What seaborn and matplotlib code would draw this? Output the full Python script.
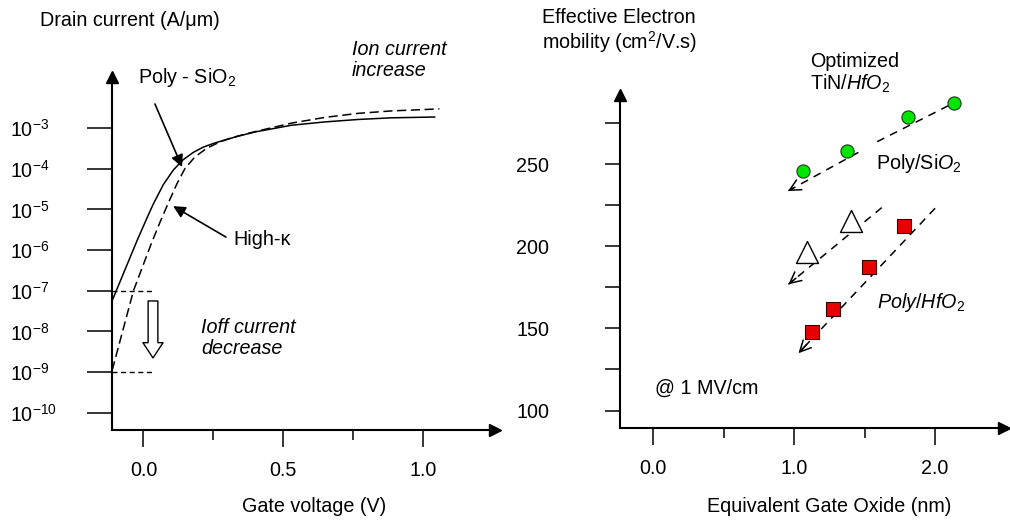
import matplotlib
matplotlib.use("Agg")
import matplotlib.pyplot as plt
import seaborn as sns
import pandas as pd
from matplotlib.ticker import FixedLocator, NullLocator

# ---------------- data: left panel (drain current vs gate voltage) ----------------
gate_voltage_poly = [-0.112, -0.022, 0.017, 0.035, 0.071, 0.107, 0.142, 0.178, 0.214,
                     0.250, 0.298, 0.345, 0.405, 0.530, 0.649, 0.768, 0.888, 1.043]
drain_current_poly = [5.75e-8, 1.78e-6, 7.24e-6, 1.35e-5, 4.07e-5, 9.33e-5, 1.66e-4, 2.51e-4,
                      3.39e-4, 4.17e-4, 5.25e-4, 6.46e-4, 8.13e-4, 1.17e-3, 1.41e-3, 1.62e-3,
                      1.78e-3, 1.86e-3]

gate_voltage_hk = [-0.112, -0.036, 0.029, 0.060, 0.089, 0.119, 0.148, 0.184, 0.226, 0.274,
                   0.321, 0.381, 0.411, 0.530, 0.649, 0.768, 0.888, 1.059]
drain_current_hk = [1.12e-9, 1.0e-7, 1.51e-6, 5.01e-6, 1.45e-5, 4.17e-5, 1.0e-4, 1.95e-4,
                    3.16e-4, 4.57e-4, 5.89e-4, 7.59e-4, 8.51e-4, 1.32e-3, 1.82e-3, 2.29e-3,
                    2.63e-3, 2.95e-3]

ioff_levels = [1e-7, 1e-9]
ioff_v_span = [-0.1145, 0.041]

current_ticks = [1e-3, 1e-4, 1e-5, 1e-6, 1e-7, 1e-8, 1e-9, 1e-10]
current_tick_labels = [r"10$^{-3}$", r"10$^{-4}$", r"10$^{-5}$", r"10$^{-6}$",
                       r"10$^{-7}$", r"10$^{-8}$", r"10$^{-9}$", r"10$^{-10}$"]
voltage_ticks = [0.0, 0.5, 1.0]
voltage_tick_labels = ["0.0", "0.5", "1.0"]
voltage_minor_ticks = [0.25, 0.75]

# ---------------- data: right panel (mobility vs EOT) ----------------
eot_tin_hfo2 = [1.066, 1.374, 1.811, 2.135]
mobility_tin_hfo2 = [245.7, 257.9, 278.8, 286.9]
eot_poly_sio2 = [1.090, 1.402]
mobility_poly_sio2 = [196.7, 215.5]
eot_poly_hfo2 = [1.126, 1.279, 1.534, 1.780]
mobility_poly_hfo2 = [148.1, 161.6, 187.2, 212.3]

# trend guides (start -> arrow tip)
tin_guide_upper_eot = [2.094, 1.587]
tin_guide_upper_mob = [285.5, 263.5]
tin_guide_lower_eot = [1.456, 0.957]
tin_guide_lower_mob = [257.1, 233.6]
sio2_guide_eot = [1.622, 0.960]
sio2_guide_mob = [223.5, 176.8]
hfo2_guide_eot = [2.000, 1.031]
hfo2_guide_mob = [223.1, 134.9]

mobility_ticks = [100, 150, 200, 250]
mobility_minor_ticks = [125, 175, 225, 275]
eot_ticks = [0.0, 1.0, 2.0]
eot_tick_labels = ["0.0", "1.0", "2.0"]
eot_minor_ticks = [0.5, 1.5]

# ---------------- style ----------------
sns.set_style("ticks", {"axes.edgecolor": "black", "xtick.color": "black",
                        "ytick.color": "black", "text.color": "black",
                        "axes.labelcolor": "black"})
plt.rcParams["font.family"] = ["Liberation Sans", "DejaVu Sans"]
plt.rcParams["mathtext.fontset"] = "custom"
plt.rcParams["mathtext.rm"] = "Liberation Sans"
plt.rcParams["mathtext.it"] = "Liberation Sans:italic"
plt.rcParams["mathtext.bf"] = "Liberation Sans:bold"
FS = 14.2

fig = plt.figure(figsize=(10.1, 5.21), dpi=100)
ax1 = fig.add_axes([0.1104, 0.1747, 0.3797, 0.6775])
ax2 = fig.add_axes([0.6139, 0.1779, 0.3802, 0.6397])

for ax in (ax1, ax2):
    ax.spines[["top", "right"]].set_visible(False)
    for s in ("left", "bottom"):
        ax.spines[s].set_linewidth(1.5)
    ax.plot(1, 0, ">", color="k", ms=8, transform=ax.transAxes, clip_on=False)
    ax.plot(0, 1, "^", color="k", ms=8, transform=ax.transAxes, clip_on=False)

# ---------------- left panel ----------------
ax1.set_yscale("log")
df_poly = pd.DataFrame({"V": gate_voltage_poly, "I": drain_current_poly})
df_hk = pd.DataFrame({"V": gate_voltage_hk, "I": drain_current_hk})
sns.lineplot(data=df_poly, x="V", y="I", ax=ax1, color="black", lw=1.1,
             sort=False, estimator=None)
sns.lineplot(data=df_hk, x="V", y="I", ax=ax1, color="black", lw=1.1,
             sort=False, estimator=None, linestyle="--")
ax1.lines[-1].set_dashes([6, 3])
for line in ax1.lines[-2:]:
    line.set_solid_joinstyle("round")
    line.set_dash_joinstyle("round")
for lvl in ioff_levels:
    ax1.plot(ioff_v_span, [lvl, lvl], color="black", lw=1.0, dashes=(3.6, 2.6))

ax1.set_xlim(-0.1145, 1.258)
ax1.set_ylim(10 ** -10.42, 10 ** -1.747)
ax1.set_yticks(current_ticks, current_tick_labels)
ax1.yaxis.set_minor_locator(NullLocator())
ax1.tick_params(axis="y", which="major", length=18, width=1.1, pad=55, labelsize=FS, left=True)
for lab in ax1.get_yticklabels():
    lab.set_horizontalalignment("left")
ax1.set_xticks(voltage_ticks, voltage_tick_labels)
ax1.xaxis.set_minor_locator(FixedLocator(voltage_minor_ticks))
ax1.tick_params(axis="x", which="major", length=12, width=1.1, pad=10, labelsize=FS, bottom=True)
ax1.tick_params(axis="x", which="minor", length=7, width=1.1, bottom=True)

ax1.set_xlabel("Gate voltage (V)", fontsize=FS)
ax1.xaxis.set_label_coords(0.528, -0.19)
ax1.set_ylabel("Drain current (A/μm)", fontsize=FS, rotation=0, ha="left", va="center")
ax1.yaxis.set_label_coords(-0.186, 1.161)

ax1.text(-0.02, 10 ** -1.75, r"Poly - SiO$_2$", fontsize=FS, ha="left", va="center")
ax1.annotate("", xy=(0.138, 10 ** -3.96), xytext=(0.041, 10 ** -2.41),
             arrowprops=dict(arrowstyle="-|>", color="black", lw=1.2,
                             mutation_scale=18, shrinkA=0, shrinkB=0))
ax1.text(0.32, 10 ** -5.75, "High-κ", fontsize=FS, ha="left", va="center")
ax1.annotate("", xy=(0.106, 10 ** -4.92), xytext=(0.295, 10 ** -5.68),
             arrowprops=dict(arrowstyle="-|>", color="black", lw=1.2,
                             mutation_scale=18, shrinkA=0, shrinkB=0))
ax1.text(0.746, 10 ** -1.33, "Ion current\nincrease", fontsize=FS, style="italic",
         ha="left", va="center", linespacing=1.15)
ax1.text(0.206, 10 ** -8.16, "Ioff current\ndecrease", fontsize=FS, style="italic",
         ha="left", va="center", linespacing=1.15)
ax1.annotate("", xy=(0.034, 10 ** -8.65), xytext=(0.034, 10 ** -7.25),
             arrowprops=dict(arrowstyle="simple,head_length=1.1,head_width=1.45,tail_width=0.7",
                             fc="white", ec="black", lw=1.0, mutation_scale=10,
                             shrinkA=0, shrinkB=0))

# ---------------- right panel ----------------
dash_style = (5.2, 4.2)
for gx, gy in ((tin_guide_upper_eot, tin_guide_upper_mob),
               (tin_guide_lower_eot, tin_guide_lower_mob),
               (sio2_guide_eot, sio2_guide_mob),
               (hfo2_guide_eot, hfo2_guide_mob)):
    ax2.plot(gx, gy, color="black", lw=1.1, dashes=dash_style, zorder=2)
for gx, gy in ((tin_guide_lower_eot, tin_guide_lower_mob),
               (sio2_guide_eot, sio2_guide_mob),
               (hfo2_guide_eot, hfo2_guide_mob)):
    tip = (gx[1], gy[1])
    back = (gx[1] + 0.08 * (gx[0] - gx[1]), gy[1] + 0.08 * (gy[0] - gy[1]))
    ax2.annotate("", xy=tip, xytext=back,
                 arrowprops=dict(arrowstyle="->", color="black", lw=1.1,
                                 mutation_scale=20, shrinkA=0, shrinkB=0))

sns.scatterplot(x=eot_tin_hfo2, y=mobility_tin_hfo2, ax=ax2, marker="o", s=90,
                color="#00e600", edgecolor="#1c3a1c", linewidth=0.8, zorder=3)
sns.scatterplot(x=eot_poly_sio2, y=mobility_poly_sio2, ax=ax2, marker="^", s=250,
                color="white", edgecolor="black", linewidth=1.0, zorder=3)
sns.scatterplot(x=eot_poly_hfo2, y=mobility_poly_hfo2, ax=ax2, marker="s", s=95,
                color="#e60000", edgecolor="#3a0000", linewidth=0.8, zorder=3)

ax2.set_xlim(-0.234, 2.489)
ax2.set_ylim(89.2, 292.0)
ax2.set_yticks(mobility_ticks, [str(v) for v in mobility_ticks])
ax2.yaxis.set_minor_locator(FixedLocator(mobility_minor_ticks))
ax2.tick_params(axis="y", which="both", length=11, width=1.1, pad=40, labelsize=FS, left=True)
ax2.set_xticks(eot_ticks, eot_tick_labels)
ax2.xaxis.set_minor_locator(FixedLocator(eot_minor_ticks))
ax2.tick_params(axis="x", which="major", length=12, width=1.1, pad=10, labelsize=FS, bottom=True)
ax2.tick_params(axis="x", which="minor", length=7, width=1.1, bottom=True)

ax2.set_xlabel("Equivalent Gate Oxide (nm)", fontsize=FS)
ax2.xaxis.set_label_coords(0.544, -0.206)
ax2.set_ylabel("Effective Electron\nmobility (cm$^2$/V.s)", fontsize=FS, rotation=0,
               ha="left", va="center", linespacing=1.1)
ax2.yaxis.set_label_coords(-0.203, 1.19)

ax2.text(1.113, 305.0, "Optimized\nTiN/$\\mathit{HfO_2}$", fontsize=FS, ha="left",
         va="center", linespacing=1.1)
ax2.text(1.582, 250.6, r"Poly/Si$\mathit{O_2}$", fontsize=FS, ha="left", va="center")
ax2.text(1.589, 165.5, r"$\mathit{Poly/HfO_2}$", fontsize=FS, ha="left", va="center")
ax2.text(0.014, 113.7, "@ 1 MV/cm", fontsize=FS, ha="left", va="center")

fig.savefig("out.png", dpi=100)
